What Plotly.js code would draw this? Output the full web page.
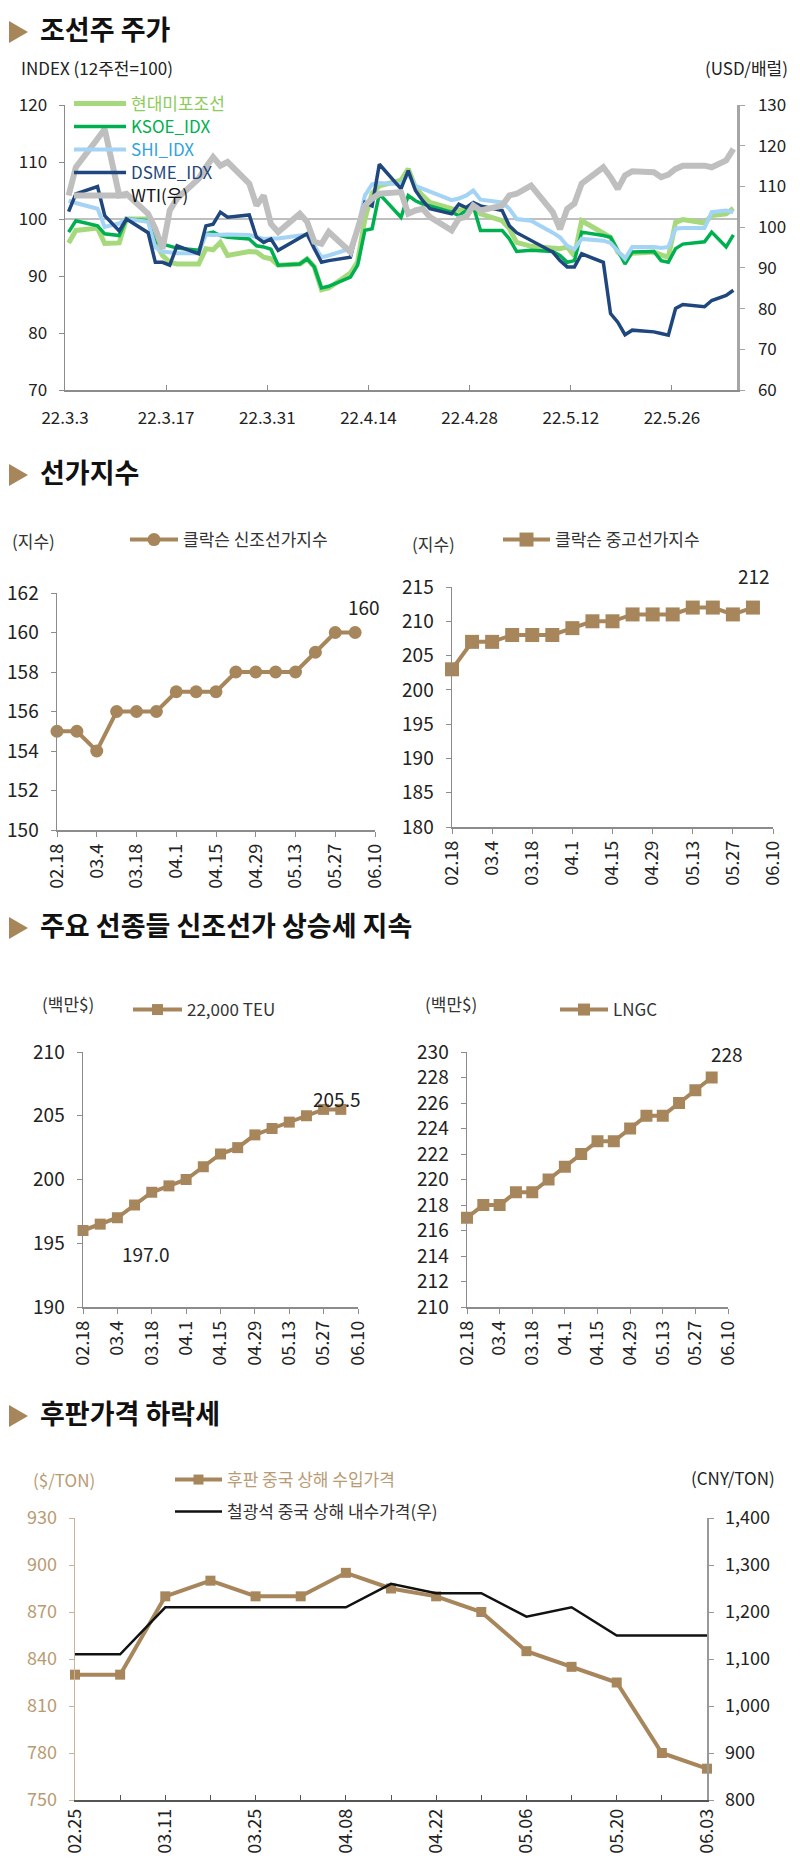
<!DOCTYPE html>
<html><head><meta charset="utf-8">
<script src="https://cdn.plot.ly/plotly-3.0.1.min.js"></script>
<style>
body{margin:0;background:#fff;width:800px;height:1875px;position:relative;overflow:hidden;font-family:'Noto Sans CJK KR','Noto Sans',sans-serif;}
.chart{position:absolute;}
.sec{position:absolute;left:9px;font-weight:700;color:#111;font-size:27px;line-height:27px;white-space:nowrap;z-index:5;}
.sec .tri{display:inline-block;width:0;height:0;border-top:11px solid transparent;border-bottom:11px solid transparent;border-left:19px solid #A8865C;margin-right:12px;vertical-align:-3px;}
</style></head><body>
<div id="c1" class="chart" style="left:0;top:0;width:800px;height:440px"></div>
<div id="c2" class="chart" style="left:0;top:500px;width:400px;height:390px"></div>
<div id="c3" class="chart" style="left:400px;top:500px;width:400px;height:390px"></div>
<div id="c4" class="chart" style="left:0;top:960px;width:400px;height:410px"></div>
<div id="c5" class="chart" style="left:400px;top:960px;width:400px;height:410px"></div>
<div id="c6" class="chart" style="left:0;top:1430px;width:800px;height:445px"></div>
<div class="sec" style="top:15px"><span class="tri"></span>조선주 주가</div>
<div class="sec" style="top:458px"><span class="tri"></span>선가지수</div>
<div class="sec" style="top:911px"><span class="tri"></span>주요 선종들 신조선가 상승세 지속</div>
<div class="sec" style="top:1399px"><span class="tri"></span>후판가격 하락세</div>
<script>
// ---------- Chart 1 data ----------
const dates1 = ['2022-03-03','2022-03-04','2022-03-07','2022-03-08','2022-03-10','2022-03-11','2022-03-14','2022-03-15','2022-03-16','2022-03-17','2022-03-18','2022-03-21','2022-03-22','2022-03-23','2022-03-24','2022-03-25','2022-03-28','2022-03-29','2022-03-30','2022-03-31','2022-04-01','2022-04-04','2022-04-05','2022-04-06','2022-04-07','2022-04-08','2022-04-11','2022-04-12','2022-04-13','2022-04-14','2022-04-15','2022-04-18','2022-04-19','2022-04-20','2022-04-21','2022-04-22','2022-04-25','2022-04-26','2022-04-27','2022-04-28','2022-04-29','2022-05-02','2022-05-03','2022-05-04','2022-05-06','2022-05-09','2022-05-10','2022-05-11','2022-05-12','2022-05-13','2022-05-16','2022-05-17','2022-05-18','2022-05-19','2022-05-20','2022-05-23','2022-05-24','2022-05-25','2022-05-26','2022-05-27','2022-05-30','2022-05-31','2022-06-02','2022-06-03'];
const hmdIdx = [95.8,98.0,98.4,95.7,95.8,100.0,100.0,96.0,93.6,92.4,92.1,92.1,94.8,94.6,95.9,93.6,94.3,94.2,93.3,93.0,91.9,92.1,93.0,91.6,87.6,87.9,90.5,92.5,100.0,104.5,105.8,106.8,108.8,105.5,104.1,102.9,101.8,101.5,101.9,102.3,100.9,99.7,98.3,95.9,95.2,94.8,94.8,95.1,93.5,99.7,97.7,96.8,94.2,93.1,94.0,94.2,93.7,93.3,99.4,99.9,99.3,100.6,100.9,101.9];
const ksoeIdx = [97.7,99.7,98.8,97.4,97.1,100.0,99.7,95.9,95.6,95.2,94.9,94.5,97.4,97.7,97.1,96.8,96.5,95.3,95.1,94.7,91.9,92.1,93.0,91.6,87.9,88.2,89.8,91.9,98.0,98.3,104.4,100.3,104.1,103.2,102.6,102.3,101.2,100.6,101.5,102.3,98.0,98.0,96.5,94.3,94.5,94.3,93.6,92.4,92.7,97.7,97.1,96.8,94.5,92.1,94.2,94.3,92.7,92.4,94.8,95.6,96.0,97.7,95.1,97.2];
const shiIdx = [103.2,102.8,101.8,98.6,99.2,100.0,99.5,95.0,94.3,94.2,94.0,94.0,97.3,97.2,97.3,97.3,97.2,96.8,96.5,96.6,96.6,97.1,97.2,95.3,93.3,93.6,94.8,98.3,104.1,106.1,106.3,106.1,107.9,105.8,105.3,104.7,103.3,103.6,104.1,105.0,103.4,102.9,101.8,100.0,99.7,97.6,96.8,95.3,94.7,96.5,96.2,95.8,94.5,93.0,95.1,95.1,94.9,95.1,98.3,98.4,98.4,101.2,101.5,101.2];
const dsmeIdx = [101.3,104.4,105.7,100.6,97.9,100.0,97.6,92.4,92.4,91.9,95.3,93.9,98.8,99.1,101.2,100.3,100.7,96.8,95.9,96.5,94.5,96.8,97.4,94.8,92.4,92.7,93.3,98.3,102.9,102.3,109.6,105.3,108.5,105.0,103.2,101.8,100.9,102.6,102.0,102.9,102.3,101.5,98.8,97.6,96.2,94.2,92.7,91.6,91.6,93.9,92.4,83.4,81.9,79.7,80.5,80.2,79.9,79.6,84.3,85.0,84.6,85.7,86.6,87.5];
const wtiPrice = [107.8,114.7,121.7,124.1,107.8,108.2,103.3,99.6,94.7,104.1,107.0,111.9,114.7,117.2,115.1,116.0,110.7,105.3,107.8,100.8,98.8,103.3,101.3,96.4,95.9,98.8,93.9,99.6,105.3,107.0,108.2,108.6,103.3,104.1,104.5,102.5,99.2,102.1,102.5,105.3,104.1,105.3,107.8,108.2,110.2,103.7,99.5,104.5,105.8,110.7,114.7,112.3,109.4,112.7,113.7,113.5,112.3,112.9,114.3,115.1,115.1,114.7,116.4,119.2];
const tickDates1 = ['2022-03-03','2022-03-17','2022-03-31','2022-04-14','2022-04-28','2022-05-12','2022-05-26'];
const tickText1 = ['22.3.3','22.3.17','22.3.31','22.4.14','22.4.28','22.5.12','22.5.26'];
const names1 = ['현대미포조선','KSOE_IDX','SHI_IDX','DSME_IDX','WTI(우)'];

// ---------- Chart 2 / 3 data ----------
const weekTicks = ['02.18','03.4','03.18','04.1','04.15','04.29','05.13','05.27','06.10'];
const clarksonNew = [155,155,154,156,156,156,157,157,157,158,158,158,158,159,160,160];
const clarksonSecond = [203,207,207,208,208,208,209,210,210,211,211,211,212,212,211,212];
const teu22000 = [196,196.5,197,198,199,199.5,200,201,202,202.5,203.5,204,204.5,205,205.5,205.5];
const lngc = [217,218,218,219,219,220,221,222,223,223,224,225,225,226,227,228];

// ---------- Chart 4 data ----------
const weeks4 = ['02.25','03.04','03.11','03.18','03.25','04.01','04.08','04.15','04.22','04.29','05.06','05.13','05.20','05.27','06.03'];
const platePrice = [830,830,880,890,880,880,895,885,880,870,845,835,825,780,770];
const ironOre = [1110,1110,1210,1210,1210,1210,1210,1260,1240,1240,1190,1210,1150,1150,1150];

const FF = "'Noto Sans CJK KR','Noto Sans',sans-serif";
const TAN = '#A8865C';
const AX = '#8C8C8C';
const cfgPlot = {staticPlot:true, displayModeBar:false};

function conv(W,H,m){
  return {
    x: X => (X - m.l) / (W - m.l - m.r),
    y: Y => 1 - (Y - m.t) / (H - m.t - m.b)
  };
}

// ================= Chart 1 =================
(function(){
  const W=800,H=440,m={l:65,r:63,t:105,b:50};
  const c=conv(W,H,m);
  const xs = dates1.map(d => d + ' 12:00');
  const cols = ['#A6D97C','#00B050','#A3D3F5','#1F477D','#BFBFBF'];
  const txtCols = ['#8CCB5A','#00B050','#33A3DC','#1F477D','#111111'];
  const widths = [5,3.5,4,3.5,6];
  const series = [hmdIdx,ksoeIdx,shiIdx,dsmeIdx,wtiPrice];
  const legKeys = ['legend','legend2','legend3','legend4','legend5'];
  const data = series.map((s,i)=>({
    x: xs, y: s, type:'scatter', mode:'lines',
    name: '<span style="color:'+txtCols[i]+'">'+names1[i]+'</span>',
    line:{color:cols[i], width:widths[i]},
    yaxis: i===4 ? 'y2' : 'y',
    legend: legKeys[i]
  }));
  const layout = {
    width:W,height:H,margin:m,paper_bgcolor:'rgba(0,0,0,0)',plot_bgcolor:'rgba(0,0,0,0)',
    font:{family:FF,size:17,color:'#222'},
    showlegend:true,
    xaxis:{type:'date',range:['2022-03-03','2022-06-04'],tickvals:tickDates1,ticktext:tickText1,
      ticks:'inside',ticklen:5,tickcolor:AX,showline:true,linecolor:AX,linewidth:1.5,showgrid:false,zeroline:false,
      ticklabelstandoff:12,tickfont:{size:17}},
    yaxis:{range:[70,120],dtick:10,tick0:70,ticks:'outside',ticklen:5,tickcolor:AX,showline:true,linecolor:AX,linewidth:1.5,
      showgrid:false,zeroline:false,ticklabelstandoff:8,tickfont:{size:17}},
    yaxis2:{range:[60,130],dtick:10,tick0:60,overlaying:'y',side:'right',ticks:'outside',ticklen:5,tickcolor:'#A6A6A6',
      showline:true,linecolor:'#A6A6A6',linewidth:2.5,showgrid:false,zeroline:false,ticklabelstandoff:10,tickfont:{size:17}},
    shapes:[{type:'line',xref:'paper',x0:0,x1:1,yref:'y',y0:100,y1:100,line:{color:'#BFBFBF',width:2},layer:'below'}],
    annotations:[
      {xref:'paper',yref:'paper',x:c.x(19),y:c.y(67),xanchor:'left',yanchor:'middle',text:'INDEX (12주전=100)',showarrow:false,font:{size:17}},
      {xref:'paper',yref:'paper',x:c.x(790),y:c.y(67),xanchor:'right',yanchor:'middle',text:'(USD/배럴)',showarrow:false,font:{size:17}}
    ]
  };
  const rowY = [104,127,150,173,196];
  legKeys.forEach((k,i)=>{
    layout[k] = {x:c.x(69),y:c.y(rowY[i]),xanchor:'left',yanchor:'middle',bgcolor:'rgba(0,0,0,0)',font:{size:17},itemwidth:52};
  });
  Plotly.newPlot('c1',data,layout,cfgPlot);
})();

// ================= Small charts =================
function smallChart(id, W,H,m, vals, yr, ydtick, symbol, msize, legName, unitText, unitX, unitY, legX, legW, legY, labels){
  const c=conv(W,H,m);
  const xs = vals.map((_,i)=>i);
  const data=[{x:xs,y:vals,type:'scatter',mode:'lines+markers',name:legName,cliponaxis:false,
    line:{color:TAN,width:4},marker:{color:TAN,size:msize,symbol:symbol}}];
  const anns=[{xref:'paper',yref:'paper',x:c.x(unitX),y:c.y(unitY),xanchor:'left',yanchor:'middle',text:unitText,showarrow:false,font:{size:17,color:'#333'}}];
  labels.forEach(L=>{
    anns.push({xref:'x',yref:'y',x:L.i,y:vals[L.i],text:L.t,showarrow:false,xshift:L.dx,yshift:L.dy,font:{size:19,color:'#222'}});
  });
  const layout={
    width:W,height:H,margin:m,paper_bgcolor:'rgba(0,0,0,0)',plot_bgcolor:'rgba(0,0,0,0)',
    font:{family:FF,size:18,color:'#222'},
    showlegend:true,
    legend:{x:c.x(legX),y:c.y(legY),xanchor:'left',yanchor:'middle',bgcolor:'rgba(0,0,0,0)',font:{size:17,color:'#333'},itemwidth:legW},
    xaxis:{range:[0,16],tickvals:weekTicks.map((_,i)=>2*i),ticktext:weekTicks,tickangle:-90,ticks:'outside',ticklen:5,
      tickcolor:AX,showline:true,linecolor:AX,linewidth:1.5,showgrid:false,zeroline:false,tickfont:{size:18}},
    yaxis:{range:yr,dtick:ydtick,tick0:yr[0],ticks:'outside',ticklen:5,tickcolor:AX,showline:true,linecolor:AX,linewidth:1.5,
      showgrid:false,zeroline:false,ticklabelstandoff:8,tickfont:{size:19}},
    annotations:anns
  };
  Plotly.newPlot(id,data,layout,cfgPlot);
}
smallChart('c2',400,390,{l:57,r:25,t:93,b:60},clarksonNew,[150,162],2,'circle',13,'클락슨 신조선가지수','(지수)',10,40,125,48,40,
  [{i:clarksonNew.length-1,t:String(clarksonNew[clarksonNew.length-1]),dx:9,dy:26}]);
smallChart('c3',400,390,{l:52,r:27,t:87,b:63},clarksonSecond,[180,215],5,'square',14,'클락슨 중고선가지수','(지수)',10,43,98,47,40,
  [{i:clarksonSecond.length-1,t:String(clarksonSecond[clarksonSecond.length-1]),dx:1,dy:32}]);
smallChart('c4',400,410,{l:83,r:42,t:92,b:63},teu22000,[190,210],5,'square',11,'22,000 TEU','(백만$)',40,43,128,49,50,
  [{i:teu22000.length-1,t:teu22000[teu22000.length-1].toFixed(1),dx:-4,dy:11},{i:2,t:teu22000[2].toFixed(1),dx:28,dy:-36}]);
smallChart('c5',400,410,{l:67,r:72,t:92,b:63},lngc,[210,230],2,'square',12,'LNGC','(백만$)',23,43,155,48,50,
  [{i:lngc.length-1,t:String(lngc[lngc.length-1]),dx:15,dy:24}]);

// ================= Chart 4 =================
(function(){
  const W=800,H=445,m={l:75,r:93,t:88,b:75};
  const c=conv(W,H,m);
  const xs = weeks4.map((_,i)=>i);
  const LT='#B99B73';
  const data=[
    {x:xs,y:platePrice,type:'scatter',mode:'lines+markers',name:'<span style="color:'+LT+'">후판 중국 상해 수입가격</span>',cliponaxis:false,
      line:{color:TAN,width:4},marker:{color:TAN,size:10,symbol:'square'},legend:'legend'},
    {x:xs,y:ironOre,type:'scatter',mode:'lines',name:'철광석 중국 상해 내수가격(우)',yaxis:'y2',cliponaxis:false,
      line:{color:'#111',width:2.5},legend:'legend2'}
  ];
  const layout={
    width:W,height:H,margin:m,paper_bgcolor:'rgba(0,0,0,0)',plot_bgcolor:'rgba(0,0,0,0)',
    font:{family:FF,size:18,color:'#222'},
    showlegend:true,
    legend:{x:c.x(170),y:c.y(50),xanchor:'left',yanchor:'middle',bgcolor:'rgba(0,0,0,0)',font:{size:17},itemwidth:47},
    legend2:{x:c.x(170),y:c.y(82),xanchor:'left',yanchor:'middle',bgcolor:'rgba(0,0,0,0)',font:{size:17,color:'#333'},itemwidth:47},
    xaxis:{range:[0,14],tickvals:xs,ticktext:weeks4.map((w,i)=>i%2===0?w:''),tickangle:-90,ticks:'inside',ticklen:5,
      tickcolor:'#555',showline:true,linecolor:'#555',linewidth:1.5,showgrid:false,zeroline:false,tickfont:{size:18}},
    yaxis:{range:[750,930],dtick:30,tick0:750,ticks:'outside',ticklen:5,tickcolor:'#C9B497',showline:true,linecolor:'#C9B497',linewidth:1.5,
      showgrid:false,zeroline:false,ticklabelstandoff:8,tickfont:{size:18,color:LT}},
    yaxis2:{range:[800,1400],dtick:100,tick0:800,overlaying:'y',side:'right',tickformat:',',ticks:'outside',ticklen:5,tickcolor:'#999',
      showline:true,linecolor:'#999',linewidth:1.5,showgrid:false,zeroline:false,ticklabelstandoff:8,tickfont:{size:18,color:'#222'}},
    annotations:[
      {xref:'paper',yref:'paper',x:c.x(31),y:c.y(50),xanchor:'left',yanchor:'middle',text:'($/TON)',showarrow:false,font:{size:17,color:LT}},
      {xref:'paper',yref:'paper',x:c.x(777),y:c.y(47),xanchor:'right',yanchor:'middle',text:'(CNY/TON)',showarrow:false,font:{size:17,color:'#222'}}
    ]
  };
  Plotly.newPlot('c6',data,layout,cfgPlot);
})();
</script>
</body></html>
